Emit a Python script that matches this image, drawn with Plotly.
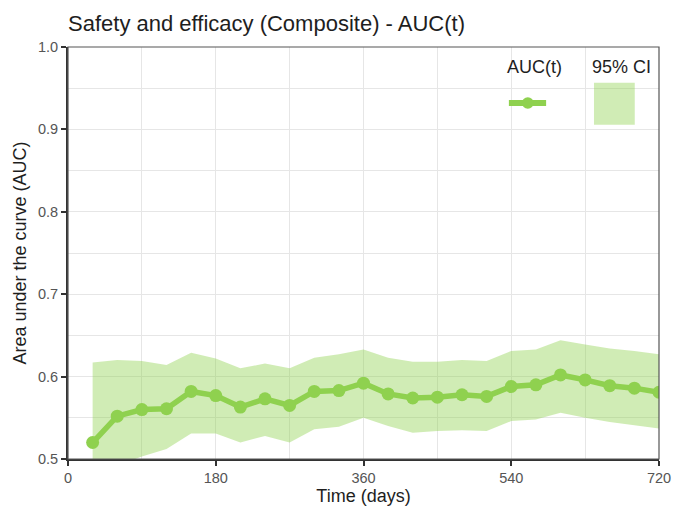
import plotly.graph_objects as go

# AUC(t) estimates at 30-day intervals, with 95% confidence limits
days = [30, 60, 90, 120, 150, 180, 210, 240, 270, 300, 330, 360,
        390, 420, 450, 480, 510, 540, 570, 600, 630, 660, 690, 720]
auc = [0.520, 0.552, 0.560, 0.561, 0.582, 0.577, 0.563, 0.573, 0.565, 0.582, 0.583, 0.592,
       0.579, 0.574, 0.575, 0.578, 0.576, 0.588, 0.590, 0.602, 0.596, 0.589, 0.586, 0.581]
ci_upper = [0.617, 0.620, 0.619, 0.614, 0.629, 0.622, 0.610, 0.616, 0.610, 0.623, 0.627, 0.633,
            0.623, 0.618, 0.618, 0.620, 0.619, 0.631, 0.633, 0.644, 0.639, 0.634, 0.631, 0.627]
ci_lower = [0.420, 0.492, 0.503, 0.512, 0.531, 0.531, 0.520, 0.528, 0.520, 0.536, 0.539, 0.550,
            0.540, 0.532, 0.534, 0.535, 0.534, 0.546, 0.548, 0.556, 0.550, 0.545, 0.541, 0.537]

x_ticks = [0, 180, 360, 540, 720]
y_ticks = [0.5, 0.6, 0.7, 0.8, 0.9, 1.0]

LINE_GREEN = "#8fd14f"
BAND_GREEN = "rgba(143,209,79,0.42)"
FONT = "Liberation Sans, Arial, sans-serif"
TEXT = "#1e1e1e"

fig = go.Figure()

# confidence band
fig.add_trace(go.Scatter(
    x=days + days[::-1], y=ci_upper + ci_lower[::-1],
    fill="toself", fillcolor=BAND_GREEN, line=dict(width=0),
    mode="lines", hoverinfo="skip", showlegend=False,
))

# AUC(t) line with markers
fig.add_trace(go.Scatter(
    x=days, y=auc, mode="lines+markers",
    line=dict(color=LINE_GREEN, width=5.5),
    marker=dict(color=LINE_GREEN, size=13),
    showlegend=False,
))

# legend keys (column headers above their symbols)
shapes = [
    dict(type="rect", xref="paper", yref="paper", x0=0, x1=1, y0=0, y1=1,
         line=dict(color="#555555", width=1.2), layer="above"),
    dict(type="line", xref="paper", yref="paper", x0=0.746, x1=0.809, y0=0.864, y1=0.864,
         line=dict(color=LINE_GREEN, width=6)),
    dict(type="circle", xref="paper", yref="paper", x0=0.768, x1=0.788, y0=0.850, y1=0.878,
         fillcolor=LINE_GREEN, line=dict(color=LINE_GREEN, width=0)),
    dict(type="rect", xref="paper", yref="paper", x0=0.890, x1=0.959, y0=0.811, y1=0.913,
         fillcolor=BAND_GREEN, line=dict(width=0)),
]
annotations = [
    dict(text="AUC(t)", xref="paper", yref="paper", x=0.789, y=0.951, showarrow=False,
         font=dict(family=FONT, size=18, color=TEXT), xanchor="center", yanchor="middle"),
    dict(text="95% CI", xref="paper", yref="paper", x=0.936, y=0.951, showarrow=False,
         font=dict(family=FONT, size=18, color=TEXT), xanchor="center", yanchor="middle"),
]

fig.update_layout(
    width=674, height=515,
    margin=dict(l=68, r=15, t=47, b=56),
    paper_bgcolor="white", plot_bgcolor="white",
    font=dict(family=FONT, color=TEXT),
    title=dict(text="Safety and efficacy (Composite) - AUC(t)", x=0.101, xanchor="left",
               y=0.955, yanchor="middle", font=dict(family=FONT, size=22, color=TEXT)),
    shapes=shapes, annotations=annotations,
    showlegend=False,
)

fig.update_xaxes(
    range=[0, 720], tickvals=x_ticks, ticktext=[str(v) for v in x_ticks],
    showgrid=True, gridcolor="#e6e6e6", gridwidth=1,
    minor=dict(dtick=90, tick0=0, showgrid=True, gridcolor="#e6e6e6", gridwidth=1),
    showline=True, linecolor="#333333", linewidth=2,
    ticks="outside", ticklen=5, tickwidth=2, tickcolor="#333333",
    tickfont=dict(family=FONT, size=14.5, color="#555555"),
    title=dict(text="Time (days)", font=dict(family=FONT, size=18, color=TEXT), standoff=2),
    zeroline=False, automargin=False,
)
fig.update_yaxes(
    range=[0.5, 1.0], tickvals=y_ticks, tickformat=".1f",
    showgrid=True, gridcolor="#e6e6e6", gridwidth=1,
    minor=dict(dtick=0.05, tick0=0.5, showgrid=True, gridcolor="#e6e6e6", gridwidth=1),
    showline=True, linecolor="#333333", linewidth=2,
    ticks="outside", ticklen=5, tickwidth=2, tickcolor="#333333",
    tickfont=dict(family=FONT, size=14.5, color="#555555"),
    title=dict(text="Area under the curve (AUC)", font=dict(family=FONT, size=18, color=TEXT),
               standoff=7),
    zeroline=False, automargin=False,
)

fig.write_html("out.html")
